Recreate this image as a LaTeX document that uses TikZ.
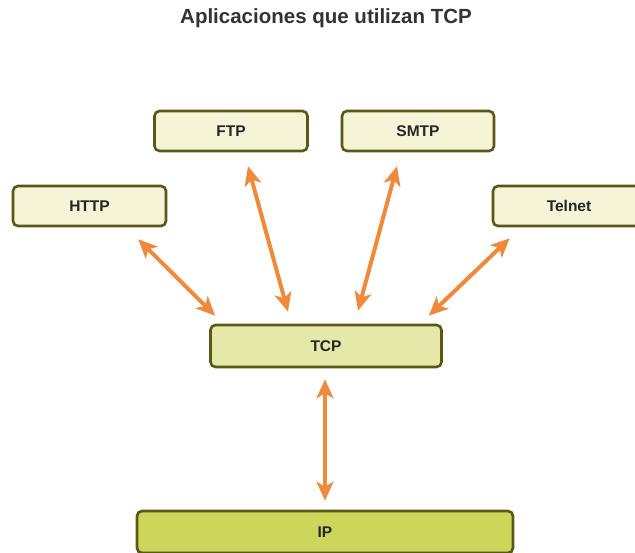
\documentclass[tikz,border=0pt]{standalone}
\usepackage{fontspec}
\setmainfont{Liberation Sans}
\usepackage{xcolor}
\usetikzlibrary{arrows.meta,calc}
\definecolor{ProtoEdge}{HTML}{5A5814}
\definecolor{ProtoCream}{HTML}{F5F4D6}
\definecolor{ProtoLime}{HTML}{E4E8A8}
\definecolor{ProtoOlive}{HTML}{CCD65A}
\definecolor{ProtoOrange}{HTML}{F08A3A}
\definecolor{ProtoTitle}{HTML}{333333}

\begin{document}
\begin{tikzpicture}[x=1pt,y=-1pt,
  protobox/.style={draw=ProtoEdge,line width=2.6pt,rounded corners=5pt,inner sep=0pt,
    minimum height=40pt,font=\fontsize{15.5}{18}\selectfont\bfseries,text=black!85},
  linkarrow/.style={ProtoOrange,line width=4pt,{Stealth[length=19pt,width=17pt,inset=5pt]}-{Stealth[length=19pt,width=17pt,inset=5pt]}}]
\useasboundingbox (0,0) rectangle (635,552);
\clip (0,0) rectangle (635,552);
\node[font=\fontsize{20.5}{24}\selectfont\bfseries,text=ProtoTitle] (title) at (326,18) {Aplicaciones que utilizan TCP};
\node[protobox,fill=ProtoCream,minimum width=153pt] (ftp) at (231,131) {FTP};
\node[protobox,fill=ProtoCream,minimum width=152pt] (smtp) at (418,131) {SMTP};
\node[protobox,fill=ProtoCream,minimum width=153pt] (http) at (89.5,206) {HTTP};
\node[protobox,fill=ProtoCream,minimum width=152pt] (telnet) at (569,206) {Telnet};
\node[protobox,fill=ProtoLime,minimum width=231pt,minimum height=42pt] (tcp) at (326,346) {TCP};
\node[protobox,fill=ProtoOlive,minimum width=376pt,minimum height=42pt] (ip) at (325,532) {IP};
% arrows between the applications and TCP
\draw[linkarrow] ($(http.south east)+(-29,12)$) -- ($(tcp.north west)+(6,-8)$);
\draw[linkarrow] ($(ftp.south)+(17,14)$) -- ($(tcp.north)+(-38,-12)$);
\draw[linkarrow] ($(smtp.south)+(-21,14)$) -- ($(tcp.north)+(32,-13)$);
\draw[linkarrow] ($(telnet.south west)+(18,11)$) -- ($(tcp.north east)+(-14,-8)$);
\draw[linkarrow] ($(tcp.south)+(-1,11)$) -- ($(ip.north)+(0,-9)$);
\end{tikzpicture}
\end{document}
